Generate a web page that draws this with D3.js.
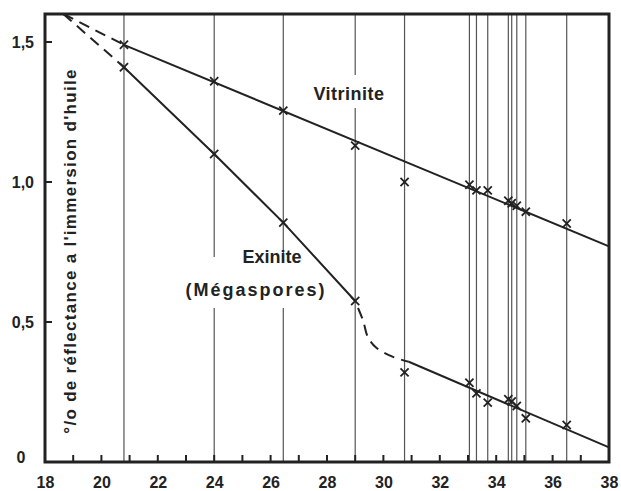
<!DOCTYPE html>
<html>
<head>
<meta charset="utf-8">
<script src="https://cdn.jsdelivr.net/npm/d3@7"></script>
<style>
  body { margin: 0; background: #fff; }
  text { font-family: "Liberation Sans", Arial, sans-serif; font-weight: bold; fill: #222; }
</style>
</head>
<body>
<div id="chart"></div>
<script>
var svgWidth = 621;
var svgHeight = 491;

var margin = { top: 14, right: 12, bottom: 29, left: 45 };
var width = svgWidth - margin.left - margin.right;
var height = svgHeight - margin.top - margin.bottom;

// sample positions (vertical lines) and measured reflectance
var samples = [20.8, 24, 26.45, 29, 30.75, 33.05, 33.3, 33.7, 34.43, 34.55, 34.73, 35.05, 36.5];
var vitrinite = [1.49, 1.36, 1.255, 1.13, 1.0, 0.99, 0.97, 0.97, 0.933, 0.924, 0.915, 0.894, 0.852];
var exinite = [1.41, 1.10, 0.855, 0.575, 0.32, 0.283, 0.245, 0.212, 0.224, 0.216, 0.20, 0.156, 0.132];

// drawn trend lines
var vitriniteFit = [[20.8, 1.49], [38, 0.77]];
var vitriniteDash = [[18.65, 1.6], [20.8, 1.49]];
var exiniteFit = [[20.8, 1.41], [24, 1.10], [26.45, 0.855], [29, 0.575]];
var exiniteDash = [[18.65, 1.6], [20.8, 1.41]];
var exiniteBend = [[29.1, 0.55], [29.28, 0.505], [29.45, 0.446], [29.75, 0.408], [30.3, 0.377], [30.9, 0.358]];
var exiniteTail = [[30.9, 0.358], [38, 0.052]];

var xLabels = d3.range(18, 39, 2);
var xMinor = d3.range(19, 38);
var yLabels = [0, 0.5, 1.0, 1.5];
var yMinor = [0.5, 1.0, 1.5];

var svg = d3.select("#chart")
  .append("svg")
  .attr("width", svgWidth)
  .attr("height", svgHeight);

var chartGroup = svg.append("g")
  .attr("transform", `translate(${margin.left}, ${margin.top})`);

var x = d3.scaleLinear().domain([18, 38]).range([0, width]);
var y = d3.scaleLinear().domain([0, 1.6]).range([height, 0]);

// vertical sample lines
chartGroup.selectAll(".vline")
  .data(samples)
  .enter()
  .append("line")
  .attr("x1", d => x(d))
  .attr("x2", d => x(d))
  .attr("y1", 0)
  .attr("y2", height)
  .attr("stroke", "#555")
  .attr("stroke-width", 1.2);

// white boxes behind labels (they break the sample lines)
chartGroup.append("rect")
  .attr("x", 310 - margin.left).attr("y", 75 - margin.top)
  .attr("width", 78).attr("height", 33)
  .attr("fill", "#fff");
chartGroup.append("rect")
  .attr("x", 180 - margin.left).attr("y", 257 - margin.top)
  .attr("width", 150).attr("height", 51)
  .attr("fill", "#fff");

var line = d3.line().x(d => x(d[0])).y(d => y(d[1]));
var curve = d3.line().x(d => x(d[0])).y(d => y(d[1])).curve(d3.curveCatmullRom);

function drawLine(pts, gen, dashed) {
  chartGroup.append("path")
    .datum(pts)
    .attr("d", gen)
    .attr("fill", "none")
    .attr("stroke", "#222")
    .attr("stroke-width", 2)
    .attr("stroke-dasharray", dashed ? "11,7" : null);
}

drawLine(vitriniteFit, line, false);
drawLine(vitriniteDash, line, true);
drawLine(exiniteFit, line, false);
drawLine(exiniteDash, line, true);
drawLine(exiniteBend, curve, true);
drawLine(exiniteTail, line, false);

// measured points
var cross = d3.symbol().type(d3.symbolTimes).size(45);
function drawPoints(values) {
  chartGroup.selectAll(null)
    .data(values)
    .enter()
    .append("path")
    .attr("d", cross)
    .attr("transform", (d, i) => `translate(${x(samples[i])}, ${y(d)})`)
    .attr("fill", "none")
    .attr("stroke", "#222")
    .attr("stroke-width", 1.8);
}
drawPoints(vitrinite);
drawPoints(exinite);

// axis labels
var bottomLabels = d3.axisBottom(x).tickValues(xLabels).tickSize(0).tickPadding(15).tickFormat(d3.format("d"));
var leftLabels = d3.axisLeft(y).tickValues(yLabels).tickSize(0).tickPadding(11)
  .tickFormat(d => d === 0 ? "0" : d3.format(".1f")(d).replace(".", ","));

var xl = chartGroup.append("g").attr("transform", `translate(0, ${height})`).call(bottomLabels);
var yl = chartGroup.append("g").call(leftLabels);
[xl, yl].forEach(g => g.select(".domain").remove());
xl.selectAll("text").style("font-size", "16px").attr("fill", "#222");
yl.selectAll("text").style("font-size", "16px").attr("fill", "#222");
// the zero label sits a little left and above
yl.selectAll(".tick").filter(d => d === 0).select("text")
  .attr("text-anchor", "middle").attr("x", -24).attr("dy", "0.05em");

// small inward ticks
chartGroup.selectAll(".xtick")
  .data(xMinor)
  .enter()
  .append("line")
  .attr("x1", d => x(d)).attr("x2", d => x(d))
  .attr("y1", height).attr("y2", height - 7)
  .attr("stroke", "#222")
  .attr("stroke-width", 2);

chartGroup.selectAll(".ytick")
  .data(yMinor)
  .enter()
  .append("line")
  .attr("x1", 0).attr("x2", 7)
  .attr("y1", d => y(d)).attr("y2", d => y(d))
  .attr("stroke", "#222")
  .attr("stroke-width", 2);

// frame
chartGroup.append("rect")
  .attr("width", width)
  .attr("height", height)
  .attr("fill", "none")
  .attr("stroke", "#222")
  .attr("stroke-width", 3);

// labels
svg.append("text")
  .attr("x", 349).attr("y", 100)
  .attr("text-anchor", "middle")
  .style("font-size", "18px")
  .style("letter-spacing", "0.5px")
  .text("Vitrinite");

svg.append("text")
  .attr("x", 272).attr("y", 263)
  .attr("text-anchor", "middle")
  .style("font-size", "18px")
  .text("Exinite");

svg.append("text")
  .attr("x", 256).attr("y", 296)
  .attr("text-anchor", "middle")
  .style("font-size", "18px")
  .style("letter-spacing", "2px")
  .text("(Mégaspores)");

svg.append("text")
  .attr("transform", "translate(76, 251) rotate(-90)")
  .attr("text-anchor", "middle")
  .style("font-size", "17px")
  .style("letter-spacing", "1.3px")
  .text("°/o de réflectance a l'immersion d'huile");
</script>
</body>
</html>
